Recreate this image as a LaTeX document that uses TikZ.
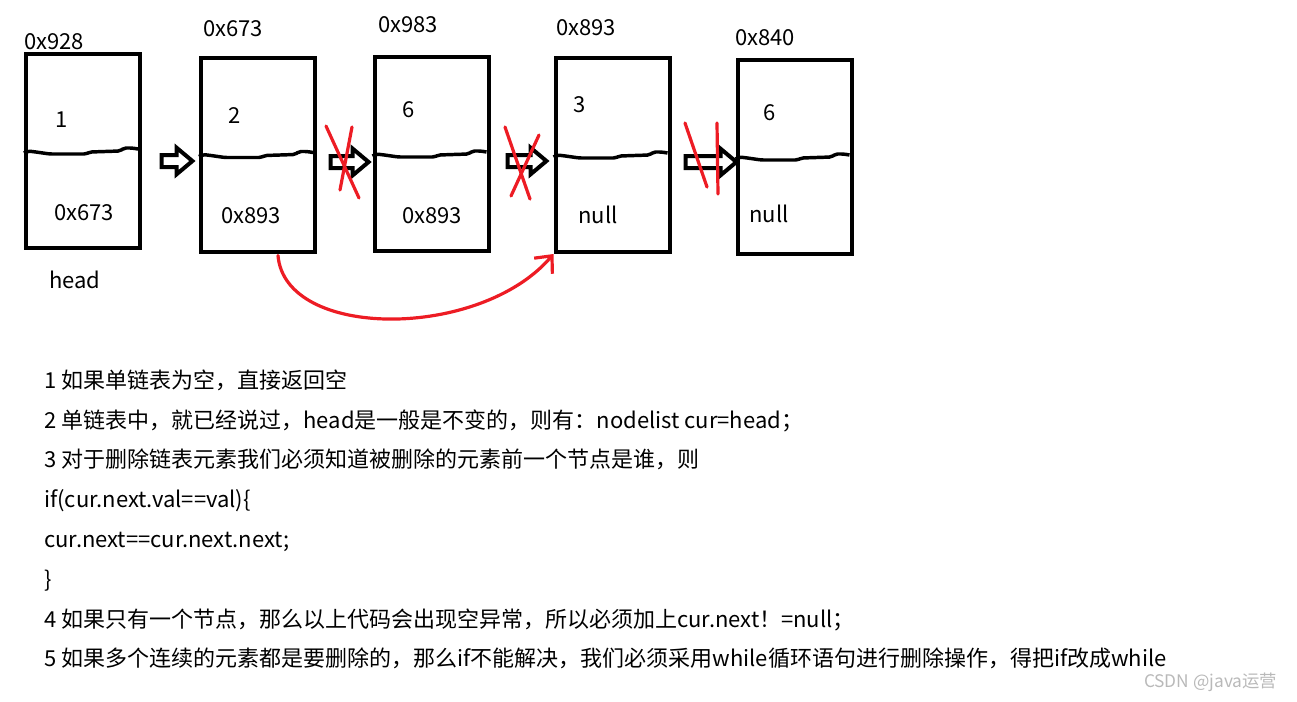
\documentclass[tikz,border=0pt]{standalone}
\usepackage{fontspec}
\setmainfont{Noto Sans CJK SC}
\usepackage{xcolor}
\usetikzlibrary{arrows.meta, positioning, shapes.arrows, calc}

\definecolor{paintred}{RGB}{237,28,36}

\newcommand{\wavyline}[1]{%
\draw[wave] ($(#1.west)+(0,2)$) -- ++(4,-2) -- ++(8,1) -- ++(14,2) -- ++(36,0)
  -- ++(4,-2) -- ++(30,-1) -- ++(4,-3) -- ++(8,0) -- ++(6,1);}

\begin{document}
\begin{tikzpicture}[x=0.75pt, y=-0.75pt, font=\fontsize{16.5}{20}\selectfont,
  cell/.style={draw, line width=3pt, minimum width=85.5pt, minimum height=145.5pt, inner sep=0pt},
  wave/.style={line width=2.6pt, rounded corners=1.5pt},
  hollow/.style={single arrow, draw, fill=white, line width=3pt, inner xsep=0pt, inner ysep=3pt,
    single arrow head extend=5.5pt, single arrow tip angle=80},
  cross/.style={draw=paintred, line width=2.4pt, line cap=round},
  jump/.style={draw=paintred, line width=2.4pt, line cap=round, -{Straight Barb[length=10pt, width=18pt, line width=2.4pt]}},
  txt/.style={anchor=base west, inner sep=0pt}]

\useasboundingbox (0,0) rectangle (1297,701);

\node[cell] (b1) at (83,151) {};
\node[cell] (b2) at (258,154.5) {};
\node[cell] (b3) at (431.5,154) {};
\node[cell] (b4) at (612.5,155) {};
\node[cell] (b5) at (794.5,157) {};

\wavyline{b1}
\wavyline{b2}
\wavyline{b3}
\wavyline{b4}
\wavyline{b5}

\node (addr1) at (54,42) {0x928};
\node (addr2) at (233,29) {0x673};
\node (addr3) at (408,25) {0x983};
\node (addr4) at (586,28) {0x893};
\node (addr5) at (765,38) {0x840};

\node (val1) at (62,120) {1};
\node (val2) at (235,116) {2};
\node (val3) at (409,110) {6};
\node (val4) at (580,105) {3};
\node (val5) at (770,113) {6};

\node (next1) at (84,213) {0x673};
\node (next2) at (251,216) {0x893};
\node (next3) at (432,216) {0x893};
\node (next4) at (598,215) {null};
\node (next5) at (769,214) {null};

\node (head) at (75,280) {head};

\node[hollow, minimum height=23pt] (a12) at (173.5,161) {};
\node[hollow, minimum height=28.5pt] (a23) at (346,162) {};
\node[hollow, minimum height=29pt] (a34) at (523.5,161) {};
\node[hollow, minimum height=38pt] (a45) at (707.5,162) {};

\draw[cross] (326,126) -- (359,198);
\draw[cross] (352,127) -- (340,190);
\draw[cross] (505,127) -- (530,199);
\draw[cross] (539,135) -- (511,196);
\draw[cross] (685,123) -- (707,187);
\draw[cross] (717,123) -- (718,194);

\draw[jump] ($(b2.south)+(20,2)$) .. controls (285,340) and (480,340) .. (b4.south west);

\node[txt] (line1) at (44,388) {1 如果单链表为空，直接返回空};
\node[txt] (line2) at (44,428) {2 单链表中，就已经说过，head是一般是不变的，则有：nodelist cur=head；};
\node[txt] (line3) at (44,467) {3 对于删除链表元素我们必须知道被删除的元素前一个节点是谁，则};
\node[txt] (line4) at (44,507) {if(cur.next.val==val)\{};
\node[txt] (line5) at (44,547) {cur.next==cur.next.next;};
\node[txt] (line6) at (44,587) {\}};
\node[txt] (line7) at (44,627) {4 如果只有一个节点，那么以上代码会出现空异常，所以必须加上cur.next！=null；};
\node[txt] (line8) at (44,666) {5 如果多个连续的元素都是要删除的，那么if不能解决，我们必须采用while循环语句进行删除操作，得把if改成while};

\node[anchor=base east, text=gray!55, font=\fontsize{13}{15}\selectfont] (mark) at (1282,687) {CSDN @java运营};

\end{tikzpicture}
\end{document}
